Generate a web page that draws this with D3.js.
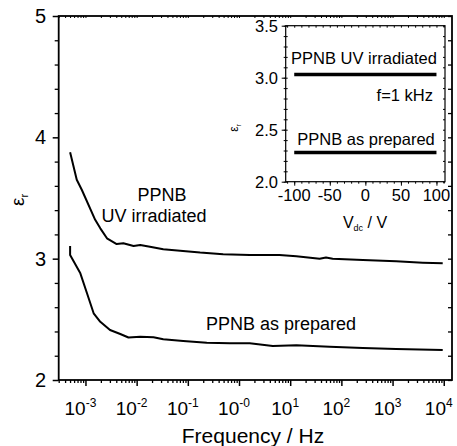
<!DOCTYPE html>
<html>
<head>
<meta charset="utf-8">
<script src="https://cdn.jsdelivr.net/npm/d3@7"></script>
<style>
  body { margin: 0; background: #fff; }
  svg { font-family: Arial, 'Liberation Sans', sans-serif; }
</style>
</head>
<body>
<div id="chart"></div>
<script>
// main panel: log10(frequency) and permittivity
const uvLogF = [-3.30, -3.17, -3.07, -2.81, -2.71, -2.58, -2.39, -2.26, -2.06, -1.93, -1.74, -1.48,
  -1.15, -0.76, -0.31, 0.21, 0.79, 1.12, 1.575, 1.70, 1.83, 2.42, 3.07, 3.59, 3.98]
const uvEps = [3.877, 3.65, 3.566, 3.32, 3.25, 3.168, 3.12, 3.127, 3.104, 3.113, 3.099, 3.077,
  3.066, 3.05, 3.036, 3.03, 3.03, 3.02, 2.999, 3.01, 3.0, 2.99, 2.978, 2.967, 2.962]
const prepLogF = [-3.30, -3.30, -3.10, -2.97, -2.84, -2.71, -2.52, -2.32, -2.16, -1.93, -1.67, -1.48,
  -1.09, -0.63, -0.18, 0.21, 0.66, 1.12, 1.77, 2.42, 3.07, 3.98]
const prepEps = [3.104, 3.03, 2.879, 2.715, 2.55, 2.48, 2.412, 2.379, 2.35, 2.357, 2.352, 2.335,
  2.321, 2.307, 2.302, 2.302, 2.28, 2.286, 2.275, 2.264, 2.255, 2.247]
const decades = [-3, -2, -1, 0, 1, 2, 3, 4]
const decadeLabels = ['-3', '-2', '-1', '-0', '1', '2', '3', '4']
const yTicks = [2, 3, 4, 5]

// inset: eps vs dc bias at 1 kHz
const vdc = [-100, 100]
const insetUv = [3.03, 3.03]
const insetPrep = [2.28, 2.28]
const insetXTicks = [-100, -50, 0, 50, 100]
const insetYTicks = [2.0, 2.5, 3.0, 3.5]

const width = 457
const height = 446

const svg = d3.select('#chart')
  .append('svg')
  .attr('width', width)
  .attr('height', height)

const x = d3.scaleLog()
  .domain([3.0e-4, 1.45e4])
  .range([58.7, 452])
const y = d3.scaleLinear()
  .domain([2, 5])
  .range([380, 16])

const line = d3.line()
  .x(d => x(Math.pow(10, d[0])))
  .y(d => y(d[1]))

const minorDecadeTicks = []
for (let e = -4; e <= 4; e++)
  for (let m = 2; m <= 9; m++) {
    const v = m * Math.pow(10, e)
    if (v >= x.domain()[0] && v <= x.domain()[1]) minorDecadeTicks.push(v)
  }
const majorX = decades.map(d => Math.pow(10, d))
const minorY = d3.range(2, 5.01, 0.2).filter(v => Math.abs(v - Math.round(v)) > 0.01)

const styleAxis = (g, w) => {
  g.select('.domain').remove()
  g.selectAll('line').attr('stroke', '#000').attr('stroke-width', w)
}

// bottom axis
svg.append('g')
  .attr('transform', `translate(0,${y(2)})`)
  .call(d3.axisBottom(x).tickValues(minorDecadeTicks).tickSize(3).tickFormat(''))
  .call(g => styleAxis(g, 1.3))
svg.append('g')
  .attr('transform', `translate(0,${y(2)})`)
  .call(d3.axisBottom(x).tickValues(majorX).tickSize(6).tickFormat(''))
  .call(g => styleAxis(g, 1.5))

// top axis (inward)
svg.append('g')
  .attr('transform', `translate(0,${y(5)})`)
  .call(d3.axisBottom(x).tickValues(minorDecadeTicks.concat(majorX)).tickSize(2).tickFormat(''))
  .call(g => styleAxis(g, 1))

// left axis
svg.append('g')
  .attr('transform', `translate(${x.range()[0]},0)`)
  .call(d3.axisLeft(y).tickValues(minorY).tickSize(4).tickFormat(''))
  .call(g => styleAxis(g, 1.3))
svg.append('g')
  .attr('transform', `translate(${x.range()[0]},0)`)
  .call(d3.axisLeft(y).tickValues(yTicks).tickSize(6).tickFormat(''))
  .call(g => styleAxis(g, 1.5))

// right axis (inward)
svg.append('g')
  .attr('transform', `translate(${x.range()[1]},0)`)
  .call(d3.axisLeft(y).tickValues(minorY.concat(yTicks)).tickSize(4).tickFormat(''))
  .call(g => styleAxis(g, 1.3))

// frame
svg.append('rect')
  .attr('x', x.range()[0])
  .attr('y', y(5))
  .attr('width', x.range()[1] - x.range()[0])
  .attr('height', y(2) - y(5))
  .attr('fill', 'none')
  .attr('stroke', '#000')
  .attr('stroke-width', 1.8)

// y labels
svg.append('g').selectAll('text')
  .data(yTicks)
  .enter()
  .append('text')
  .attr('x', 46)
  .attr('y', d => y(d) + 7)
  .attr('text-anchor', 'end')
  .attr('font-size', '20px')
  .text(d => d)

// x labels 10^n
const xl = svg.append('g').selectAll('text')
  .data(decades)
  .enter()
  .append('text')
  .attr('x', d => x(Math.pow(10, d)) - 5)
  .attr('y', 415)
  .attr('text-anchor', 'middle')
  .attr('font-size', '19px')
xl.append('tspan').text('10')
xl.append('tspan')
  .attr('font-size', '12px')
  .attr('dy', '-8')
  .text((d, i) => decadeLabels[i])

// axis titles
svg.append('text')
  .attr('x', 253)
  .attr('y', 443)
  .attr('text-anchor', 'middle')
  .attr('font-size', '21px')
  .text('Frequency / Hz')

const yt = svg.append('text')
  .attr('transform', 'translate(24,200) rotate(-90)')
  .attr('text-anchor', 'middle')
  .attr('font-size', '19px')
yt.append('tspan').text('ε')
yt.append('tspan').attr('font-size', '11px').attr('dy', '4').text('r')

// curves
const curves = [
  d3.zip(uvLogF, uvEps),
  d3.zip(prepLogF, prepEps)
]
svg.append('g').selectAll('path')
  .data(curves)
  .enter()
  .append('path')
  .attr('d', line)
  .attr('fill', 'none')
  .attr('stroke', '#000')
  .attr('stroke-width', 2)
  .attr('stroke-linejoin', 'round')

// annotations
svg.append('text').attr('x', 162).attr('y', 201).attr('text-anchor', 'middle')
  .attr('font-size', '18px').text('PPNB')
svg.append('text').attr('x', 154).attr('y', 222).attr('text-anchor', 'middle')
  .attr('font-size', '18px').text('UV irradiated')
svg.append('text').attr('x', 281).attr('y', 330).attr('text-anchor', 'middle')
  .attr('font-size', '18px').text('PPNB as prepared')

// ---------- inset ----------
const ix = d3.scaleLinear()
  .domain([-112, 112])
  .range([285.7, 445])
const iy = d3.scaleLinear()
  .domain([2.0, 3.5])
  .range([181.7, 25.7])

const inset = svg.append('g')

inset.append('rect')
  .attr('x', ix.range()[0])
  .attr('y', iy.range()[1])
  .attr('width', ix.range()[1] - ix.range()[0])
  .attr('height', iy.range()[0] - iy.range()[1])
  .attr('fill', '#fff')
  .attr('stroke', '#000')
  .attr('stroke-width', 1.2)

const iMinorX = d3.range(-110, 111, 10)
const iMinorY = d3.range(2.0, 3.501, 0.1)

inset.append('g')
  .attr('transform', `translate(0,${iy.range()[0]})`)
  .call(d3.axisBottom(ix).tickValues(iMinorX).tickSize(2).tickFormat(''))
  .call(g => styleAxis(g, 1))
inset.append('g')
  .attr('transform', `translate(0,${iy.range()[0]})`)
  .call(d3.axisBottom(ix).tickValues(insetXTicks).tickSize(4).tickFormat(''))
  .call(g => styleAxis(g, 1))
inset.append('g')
  .attr('transform', `translate(0,${iy.range()[1]})`)
  .call(d3.axisBottom(ix).tickValues(iMinorX).tickSize(2).tickFormat(''))
  .call(g => styleAxis(g, 1))
inset.append('g')
  .attr('transform', `translate(${ix.range()[0]},0)`)
  .call(d3.axisLeft(iy).tickValues(iMinorY).tickSize(2).tickFormat(''))
  .call(g => styleAxis(g, 1))
inset.append('g')
  .attr('transform', `translate(${ix.range()[0]},0)`)
  .call(d3.axisRight(iy).tickValues(iMinorY).tickSize(2).tickFormat(''))
  .call(g => styleAxis(g, 1))
inset.append('g')
  .attr('transform', `translate(${ix.range()[0]},0)`)
  .call(d3.axisLeft(iy).tickValues(insetYTicks).tickSize(4).tickFormat(''))
  .call(g => styleAxis(g, 1))
inset.append('g')
  .attr('transform', `translate(${ix.range()[1]},0)`)
  .call(d3.axisLeft(iy).tickValues(iMinorY).tickSize(2).tickFormat(''))
  .call(g => styleAxis(g, 1))

inset.append('g').selectAll('text')
  .data(insetYTicks)
  .enter()
  .append('text')
  .attr('x', 278)
  .attr('y', d => iy(d) + 6)
  .attr('text-anchor', 'end')
  .attr('font-size', '16.5px')
  .text(d3.format('.1f'))

inset.append('g').selectAll('text')
  .data(insetXTicks)
  .enter()
  .append('text')
  .attr('x', d => ix(d))
  .attr('y', 201)
  .attr('text-anchor', 'middle')
  .attr('font-size', '16.5px')
  .text(d => d)

const ixt = inset.append('text')
  .attr('x', 365)
  .attr('y', 228)
  .attr('text-anchor', 'middle')
  .attr('font-size', '16px')
ixt.append('tspan').text('V')
ixt.append('tspan').attr('font-size', '9px').attr('dy', '3').text('dc')
ixt.append('tspan').attr('dy', '-3').text(' / V')

const iyt = inset.append('text')
  .attr('transform', 'translate(238,128) rotate(-90)')
  .attr('text-anchor', 'middle')
  .attr('font-size', '12px')
iyt.append('tspan').text('ε')
iyt.append('tspan').attr('font-size', '7px').attr('dy', '3').text('r')

const iline = d3.line()
  .x(d => ix(d[0]))
  .y(d => iy(d[1]))

inset.append('g').selectAll('path')
  .data([d3.zip(vdc, insetUv), d3.zip(vdc, insetPrep)])
  .enter()
  .append('path')
  .attr('d', iline)
  .attr('fill', 'none')
  .attr('stroke', '#000')
  .attr('stroke-width', 3.5)

inset.append('text').attr('x', 364).attr('y', 64).attr('text-anchor', 'middle')
  .attr('font-size', '16.5px').text('PPNB UV irradiated')
inset.append('text').attr('x', 433).attr('y', 101).attr('text-anchor', 'end')
  .attr('font-size', '16.5px').text('f=1 kHz')
inset.append('text').attr('x', 366).attr('y', 145).attr('text-anchor', 'middle')
  .attr('font-size', '16.5px').text('PPNB as prepared')
</script>
</body>
</html>
